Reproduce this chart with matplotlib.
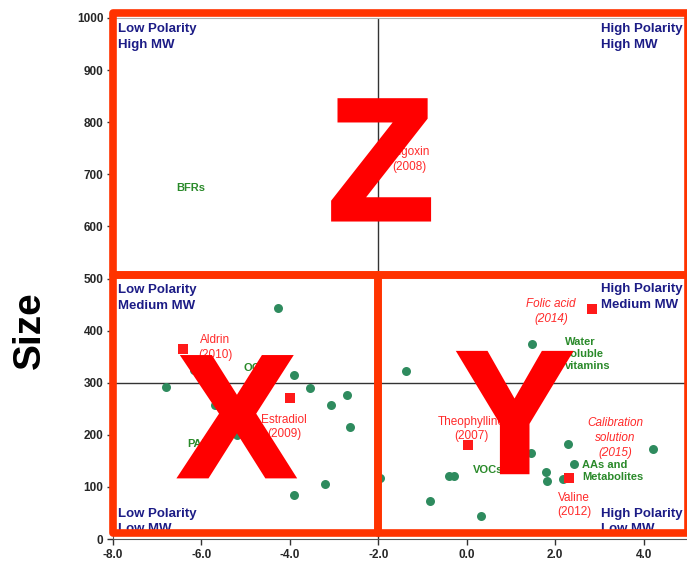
import matplotlib
matplotlib.use("Agg")
import matplotlib.pyplot as plt
import matplotlib.patheffects as pe
from matplotlib.patches import Rectangle

plt.rcParams['font.family'] = ['Liberation Sans', 'DejaVu Sans']

# compound classes (green dots): polarity vs size
cls_x = [-6.80, -6.17, -5.99, -5.83, -5.69, -5.20, -4.27, -3.91, -3.55, -3.08,
         -2.72, -2.64, -3.20, -3.91, -1.97, -1.38, -0.40, -0.30, -0.84, 0.32,
         1.45, 1.47, 1.79, 1.81, 2.17, 2.28, 2.42, 4.20]
cls_y = [292, 324, 315, 292, 257, 200, 443, 315, 290, 257,
         276, 215, 105, 84, 117, 322, 121, 121, 73, 44,
         165, 374, 129, 111, 115, 182, 144, 173]

# reference standards (red squares)
std_names = ["Aldrin", "Estradiol", "Digoxin", "Theophylline", "Folic acid", "Valine"]
std_x = [-6.42, -4.00, -1.30, 0.02, 2.82, 2.31]
std_y = [365, 270, 785, 180, 441, 117]

# red labels: text, x, y, italic
std_labels = [
    ("Aldrin\n(2010)", -5.69, 368, False),
    ("Estradiol\n(2009)", -4.13, 215, False),
    ("Digoxin\n(2008)", -1.29, 728, False),
    ("Theophylline\n(2007)", 0.11, 211, False),
    ("Folic acid\n(2014)", 1.90, 437, True),
    ("Calibration\nsolution\n(2015)", 3.35, 194, True),
    ("Valine\n(2012)", 2.42, 65, False),
]

# green class labels
cls_labels = [
    ("BFRs", -6.58, 674),
    ("OCs", -5.06, 328),
    ("PAHs", -6.33, 182),
    ("VOCs", 0.14, 132),
    ("Water\nsoluble\nvitamins", 2.21, 355),
    ("AAs and\nMetabolites", 2.60, 130),
]

quad_labels = [
    ("Low Polarity\nHigh MW", -7.89, 990),
    ("High Polarity\nHigh MW", 3.03, 990),
    ("Low Polarity\nMedium MW", -7.89, 489),
    ("High Polarity\nMedium MW", 3.03, 491),
    ("Low Polarity\nLow MW", -7.89, 60),
    ("High Polarity\nLow MW", 3.03, 60),
]

fig = plt.figure(figsize=(6.87, 5.63), dpi=100)
ax = fig.add_axes([113 / 687, 24 / 563, 575 / 687, 521 / 563])
ax.set_xlim(-8, 5)
ax.set_ylim(0, 1000)

ax.axvline(-2, color='#333333', lw=1, zorder=1)
ax.axhline(300, color='#333333', lw=1, zorder=1)

ax.scatter(cls_x, cls_y, s=42, color='#2e8b5e', zorder=3, linewidths=0)
ax.scatter(std_x, std_y, s=55, color='#ff1a1a', marker='s', zorder=4, linewidths=0)

for txt, x, y, it in std_labels:
    ax.text(x, y, txt, color='#ff2a2a', fontsize=8.5, ha='center', va='center',
            style='italic' if it else 'normal', linespacing=1.3, zorder=5)

for txt, x, y in cls_labels:
    ax.text(x, y, txt, color='#2a8a2a', fontsize=8, fontweight='bold',
            ha='left', va='center', linespacing=1.3, zorder=5)

for txt, x, y in quad_labels:
    ax.text(x, y, txt, color='#1c1c86', fontsize=9.5, fontweight='bold',
            ha='left', va='top', linespacing=1.4, zorder=5)

ax.set_xticks([-8, -6, -4, -2, 0, 2, 4])
ax.set_xticklabels([f"{v:.1f}" for v in [-8, -6, -4, -2, 0, 2, 4]])
ax.set_yticks(range(0, 1001, 100))
ax.tick_params(direction='out', length=4, width=1, color='#333333',
               labelsize=8.5, labelcolor='#262626', pad=3)
for lab in ax.get_xticklabels() + ax.get_yticklabels():
    lab.set_fontweight('bold')
for side in ['top', 'right']:
    ax.spines[side].set_color('#b0b0b0')
ax.spines['bottom'].set_color('#555555')
ax.spines['left'].set_color('#555555')

fig.text(30 / 687, 1 - 330 / 563, "Size", rotation=90, fontsize=28,
         fontweight='bold', ha='center', va='center')

# region boxes
box_col = '#ff3300'
for x0, y0, x1, y1 in [(-8, 506, 5, 1010), (-8, 11.5, -2, 506), (-2, 11.5, 5, 506)]:
    ax.add_patch(Rectangle((x0, y0), x1 - x0, y1 - y0, fill=False, ec=box_col,
                           lw=5.5, joinstyle='round', clip_on=False, zorder=8))

# big region letters, thickened with a sharp-cornered outline
heavy = [pe.Stroke(linewidth=3.5, foreground='#ff0000', joinstyle='miter'), pe.Normal()]
for letter, x, y in [("Z", -1.94, 614), ("X", -5.20, 121), ("Y", 1.08, 129)]:
    ax.text(x, y, letter, color='#ff0000', fontsize=124, fontweight='bold',
            ha='center', va='baseline', zorder=9, path_effects=heavy)

fig.savefig("out.png", dpi=100)
